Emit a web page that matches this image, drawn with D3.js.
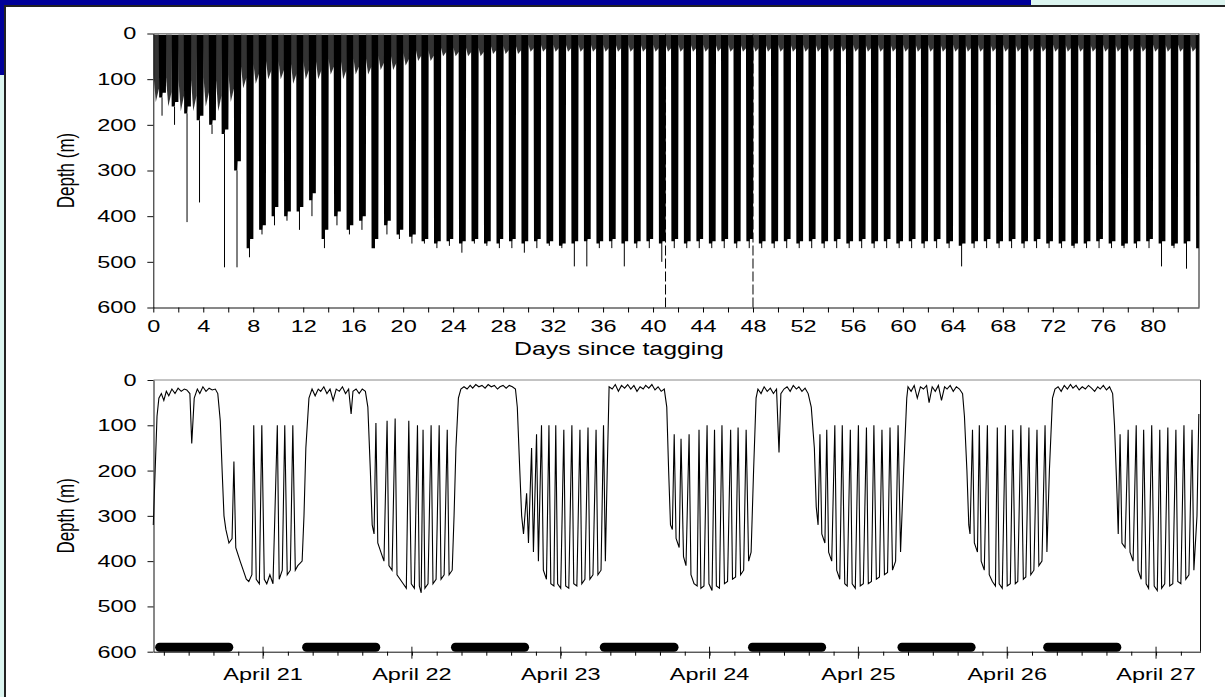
<!DOCTYPE html>
<html>
<head>
<meta charset="utf-8">
<script src="https://cdn.jsdelivr.net/npm/d3@7"></script>
<style>
  body { margin: 0; background: #dcf5f0; }
  svg { display: block; }
  text { font-family: "Liberation Sans", Arial, sans-serif; fill: #000; }
</style>
</head>
<body>
<svg id="chart" width="1225" height="697"></svg>
<script>
// ---------- data ----------
// top panel: one entry per day since tagging (depths in m)
const topNight = [
  150,160,170,170,160,170,150,120,110,100,
  100,110,100,100, 90,100, 90, 90, 80, 80,
   70, 60, 60, 50, 50, 50, 50, 45, 45, 45,
   40, 40, 40, 40, 40, 40, 40, 40, 40, 40,
   40, 40, 40, 40, 40, 40, 40, 40, 40, 40,
   40, 40, 40, 40, 40, 40, 40, 40, 40, 40,
   40, 40, 40, 40, 40, 40, 40, 40, 40, 40,
   40, 40, 40, 40, 40, 40, 40, 40, 40, 40,
   40, 40, 40, 40];
const topDeep = [
  140,160,175,190,200,220,300,470,430,400,
  400,390,365,450,400,430,410,470,420,440,
  445,455,460,455,460,455,460,460,455,460,
  455,460,465,460,455,460,455,460,460,455,
  460,455,460,455,460,455,460,455,460,460,
  455,460,455,460,455,460,455,460,455,460,
  455,460,455,460,465,460,455,460,455,460,
  455,460,460,465,460,455,460,465,460,455,
  460,465,460,470];
const topDeepLate = [
  130,150,160,180,190,210,280,450,420,380,
  390,380,350,430,390,420,400,450,410,430,
  440,450,455,450,455,450,455,450,450,455,
  450,455,460,455,450,455,450,455,455,450,
  455,450,455,450,455,450,455,450,455,455,
  450,455,450,455,450,455,450,455,450,455,
  450,455,450,455,460,455,450,455,450,455,
  450,455,455,460,455,450,455,460,455,450,
  455,460,455,465];
const topSpike = [
  180,200,413,370,220,512,512,490,440,420,
  410,430,400,470,420,440,430,470,440,450,
  460,460,470,465,480,460,465,470,470,480,
  470,465,470,510,510,470,470,510,470,470,
  500,470,470,470,470,470,470,470,470,470,
  470,470,470,470,470,470,470,470,470,470,
  470,470,470,470,510,470,470,470,470,470,
  470,470,470,470,470,470,470,470,470,470,
  510,470,515,470];
const topDays = d3.range(topDeep.length);
const topXTicks = d3.range(0, 84, 2);
const windowDays = [41, 48];

// bottom panel: hours after midnight of each date, depth (m)
const apr20 = [[6.3,320],[6.6,200],[6.9,80],[7.2,40],[7.6,30],[8.0,45],[8.4,25],[8.8,35],[9.3,20],[9.8,30],[10.3,18],[10.8,25],[11.3,20],[11.7,22],[12.2,30],[12.5,140],[12.9,40],[13.4,20],[13.8,30],[14.3,15],[14.8,25],[15.3,18],[15.8,22],[16.3,20],[16.7,30],[17.1,90],[17.4,200],[17.7,300],
  [18.0,330],[18.5,360],[19.0,350],[19.3,180],[19.6,370],[20.3,400],[20.8,420],[21.3,440],[21.7,445],[22.2,430],[22.5,100],[22.9,440],[23.4,450],[23.8,100],[24.2,440],[24.6,450],[25.1,430],[25.6,450],[26.3,100],[26.6,440],[27.1,420],[27.5,100],[27.9,430],[28.4,420],[28.8,100],[29.2,420],[29.6,410],[30.3,400],[30.6,300],[30.9,150]];
const apr21 = [[7.4,40],[7.9,20],[8.4,35],[8.9,20],[9.3,25],[9.8,15],[10.3,30],[10.8,20],[11.3,45],[11.8,20],[12.3,25],[12.8,15],[13.3,30],[13.8,20],[14.2,75],[14.5,25],[15.0,20],[15.5,30],[16.0,20],[16.5,25],[16.9,60],[17.3,200],[17.6,320],
  [17.9,340],[18.2,95],[18.5,360],[19.0,380],[19.5,400],[20.0,90],[20.3,410],[20.8,420],[21.3,85],[21.6,430],[22.1,440],[22.6,450],[23.1,460],[23.5,90],[23.9,450],[24.4,460],[24.9,100],[25.2,455],[25.5,470],[25.8,110],[26.1,460],[26.6,450],[27.1,100],[27.4,450],[27.9,440],[28.4,100],[28.7,440],[29.2,430],[29.7,110],[30.0,430],[30.5,420],[30.8,300],[31.1,150]];
const apr22 = [[7.5,40],[7.9,20],[8.4,15],[8.9,20],[9.4,12],[9.8,18],[10.3,10],[10.8,15],[11.3,12],[11.8,18],[12.3,10],[12.8,15],[13.3,12],[13.8,20],[14.2,15],[14.7,12],[15.2,18],[15.7,12],[16.2,15],[16.7,20],[17.0,60],[17.4,200],[17.7,300],
  [18.0,340],[18.5,250],[18.8,360],[19.3,150],[19.6,380],[20.1,120],[20.4,400],[20.9,100],[21.2,420],[21.7,440],[22.1,100],[22.4,450],[22.9,455],[23.2,100],[23.5,450],[24.0,460],[24.5,110],[24.8,455],[25.3,460],[25.8,100],[26.1,450],[26.6,455],[27.1,110],[27.4,450],[27.9,440],[28.4,105],[28.7,440],[29.2,430],[29.7,110],[30.0,430],[30.5,420],[30.9,100],[31.2,400],[31.5,200]];
const apr23 = [[7.8,15],[8.3,20],[8.8,10],[9.3,25],[9.8,12],[10.3,18],[10.8,10],[11.3,20],[11.8,12],[12.3,25],[12.8,15],[13.3,20],[13.7,12],[14.2,18],[14.7,10],[15.2,22],[15.7,15],[16.2,25],[16.7,20],[17.1,60],[17.4,200],[17.7,320],
  [18.0,330],[18.3,120],[18.6,350],[19.1,370],[19.4,130],[19.8,390],[20.2,410],[20.7,120],[21.0,430],[21.5,450],[22.0,455],[22.3,110],[22.6,460],[23.1,455],[23.6,100],[23.9,450],[24.4,465],[24.8,110],[25.1,455],[25.6,460],[26.0,100],[26.4,450],[26.9,445],[27.4,110],[27.7,440],[28.2,435],[28.6,105],[29.0,430],[29.5,420],[29.9,110],[30.3,400],[30.7,380],[31.1,200]];
const apr24 = [[7.5,40],[7.8,20],[8.3,30],[8.8,15],[9.3,25],[9.8,18],[10.3,30],[10.8,20],[11.2,160],[11.5,30],[12.0,20],[12.5,15],[13.0,25],[13.5,12],[14.0,20],[14.4,15],[14.9,25],[15.4,18],[15.9,30],[16.4,60],[16.9,150],[17.2,280],
  [17.5,320],[17.8,120],[18.1,340],[18.6,360],[18.9,110],[19.2,380],[19.7,400],[20.2,100],[20.5,420],[21.0,440],[21.4,100],[21.8,450],[22.2,455],[22.7,110],[23.0,450],[23.5,460],[24.0,100],[24.3,455],[24.8,450],[25.3,105],[25.6,450],[26.1,445],[26.5,100],[26.9,440],[27.4,435],[27.8,110],[28.2,430],[28.7,425],[29.1,105],[29.5,420],[30.0,400],[30.4,100],[30.8,380],[31.3,200]];
const apr25 = [[7.8,40],[8.0,15],[8.5,25],[9.0,12],[9.5,40],[10.0,15],[10.5,20],[11.0,12],[11.4,50],[11.9,15],[12.4,25],[12.9,12],[13.4,45],[13.9,15],[14.3,20],[14.8,12],[15.3,25],[15.8,15],[16.3,20],[16.8,30],[17.1,80],[17.5,200],[17.8,320],
  [18.0,340],[18.4,110],[18.7,360],[19.2,380],[19.5,100],[19.8,400],[20.3,420],[20.8,100],[21.1,430],[21.6,445],[22.1,455],[22.4,105],[22.7,450],[23.2,460],[23.7,100],[24.0,455],[24.5,450],[24.9,110],[25.3,450],[25.7,445],[26.2,100],[26.6,440],[27.0,435],[27.5,105],[27.8,430],[28.3,420],[28.8,110],[29.1,410],[29.6,400],[30.1,100],[30.4,380],[30.8,200]];
const apr26 = [[7.3,40],[7.7,20],[8.2,15],[8.7,25],[9.2,12],[9.7,20],[10.2,10],[10.6,18],[11.1,12],[11.6,22],[12.1,15],[12.6,20],[13.1,12],[13.6,18],[14.1,25],[14.6,15],[15.0,20],[15.5,12],[16.0,22],[16.5,15],[17.0,30],[17.3,100],[17.7,250],
  [17.9,340],[18.2,120],[18.5,360],[19.0,370],[19.5,110],[19.8,380],[20.3,400],[20.8,100],[21.1,420],[21.6,440],[22.0,110],[22.4,450],[22.8,460],[23.3,100],[23.7,455],[24.2,465],[24.6,110],[24.9,460],[25.4,450],[25.9,105],[26.2,455],[26.7,450],[27.2,110],[27.5,445],[28.0,450],[28.5,100],[28.8,440],[29.3,430],[29.8,110],[30.1,420],[30.6,300],[30.9,75]];
const bottomDays = [apr20, apr21, apr22, apr23, apr24, apr25, apr26];
// night periods (hour of each date, start/end)
const nightStart = [6.6, 6.3, 6.3, 6.3, 6.2, 6.3, 5.8];
const nightEnd   = [19.2, 18.9, 18.9, 19.0, 18.8, 18.9, 18.4];
const dayLabels = ["April 21", "April 22", "April 23", "April 24", "Aprl 25", "April 26", "April 27"];
const depthTicks = [0, 100, 200, 300, 400, 500, 600];

// ---------- layout ----------
const svg = d3.select("#chart");
const STRETCH = 1.38;

svg.append("rect").attr("width", 1225).attr("height", 697).attr("fill", "#dcf5f0");
svg.append("rect").attr("width", 1031).attr("height", 6).attr("fill", "#000099");
svg.append("rect").attr("width", 4).attr("height", 75).attr("fill", "#000099");
svg.append("rect").attr("x", 5).attr("y", 6).attr("width", 1230).attr("height", 700)
    .attr("fill", "#ffffff").attr("stroke", "#222").attr("stroke-width", 2);

function stretch(sel) {
    sel.each(function() {
        const t = d3.select(this);
        const x = +t.attr("x") || 0;
        t.attr("transform", `translate(${x},0) scale(${STRETCH},1) translate(${-x},0)`);
    });
}

function depthAxis(g, y) {
    g.call(d3.axisLeft(y).tickValues(depthTicks).tickSize(6).tickPadding(11).tickSizeOuter(0));
    g.select(".domain").attr("stroke", "#111");
    g.selectAll(".tick line").attr("stroke", "#111");
    g.selectAll("text").attr("font-size", 17).attr("font-family", null);
    stretch(g.selectAll("text"));
}

// ---------- top panel ----------
const xTop = d3.scaleLinear().domain([0, 83.7]).range([153.3, 1199]);
const yTop = d3.scaleLinear().domain([0, 600]).range([33.5, 307.5]);

svg.append("clipPath").attr("id", "clipTop").append("rect")
    .attr("x", xTop.range()[0]).attr("y", yTop(0))
    .attr("width", xTop.range()[1] - xTop.range()[0]).attr("height", yTop(600) - yTop(0));

const topG = svg.append("g");
const plotTop = topG.append("g").attr("clip-path", "url(#clipTop)");

// dashed lines marking the week shown below
plotTop.selectAll("line.win").data(windowDays).join("line").attr("class", "win")
    .attr("x1", d => xTop(d)).attr("x2", d => xTop(d))
    .attr("y1", yTop(600)).attr("y2", yTop(0))
    .attr("stroke", "#000").attr("stroke-dasharray", "10,3");

// night (shallow) fuzz
const nightArea = d3.area().x(d => xTop(d[0])).y0(yTop(2)).y1(d => yTop(d[1]));
plotTop.selectAll("path.night").data(topDays).join("path").attr("class", "night")
    .attr("d", d => nightArea([[d + 0.02, topNight[d] * 0.6], [d + 0.2, topNight[d]], [d + 0.46, topNight[d] * 0.8]]))
    .attr("fill", "#000").attr("fill-opacity", 0.8);

// daytime deep dive columns
const dayArea = d3.area().x(d => xTop(d[0])).y0(yTop(3)).y1(d => yTop(d[1]));
plotTop.selectAll("path.day").data(topDays).join("path").attr("class", "day")
    .attr("d", d => dayArea([[d + 0.44, 30], [d + 0.47, topDeep[d]], [d + 0.72, topDeep[d]],
                             [d + 0.75, topDeepLate[d]], [d + 1.01, topDeepLate[d]], [d + 1.04, 30]]))
    .attr("fill", "#000");

// deepest excursion each day
plotTop.selectAll("line.spike").data(topDays).join("line").attr("class", "spike")
    .attr("x1", d => xTop(d + 0.7)).attr("x2", d => xTop(d + 0.7))
    .attr("y1", d => yTop(Math.min(topDeep[d], topNight[d] + 250))).attr("y2", d => yTop(topSpike[d]))
    .attr("stroke", "#000").attr("stroke-width", 1);

// frame
topG.append("line").attr("x1", xTop.range()[0]).attr("x2", xTop.range()[1])
    .attr("y1", yTop(0)).attr("y2", yTop(0)).attr("stroke", "#888");
topG.append("line").attr("x1", xTop.range()[1]).attr("x2", xTop.range()[1])
    .attr("y1", yTop(0)).attr("y2", yTop(600)).attr("stroke", "#111");

topG.append("g").attr("transform", `translate(${xTop.range()[0]},0)`).call(g => depthAxis(g, yTop));

const xAxisTop = topG.append("g").attr("transform", `translate(0,${yTop(600)})`)
    .call(d3.axisBottom(xTop).tickValues(topXTicks).tickSize(5).tickPadding(7).tickSizeOuter(0)
        .tickFormat(d => d % 4 === 0 ? d : ""));
xAxisTop.select(".domain").attr("stroke", "#111");
xAxisTop.selectAll("text").attr("font-size", 17).attr("font-family", null);
stretch(xAxisTop.selectAll("text"));

topG.append("text").attr("x", 619).attr("y", 355).attr("text-anchor", "middle")
    .attr("font-size", 18).attr("transform", `translate(619,0) scale(${STRETCH},1) translate(-619,0)`)
    .text("Days since tagging");

// ---------- bottom panel ----------
const t0 = Date.UTC(2000, 3, 20, 6, 20), t1 = Date.UTC(2000, 3, 27, 7, 10);
const xBot = d3.scaleUtc().domain([t0, t1]).range([153.5, 1200.5]);
const yBot = d3.scaleLinear().domain([0, 600]).range([380, 651.7]);
const dateMs = (k, h) => Date.UTC(2000, 3, 20 + k) + h * 3600e3;

const trace = bottomDays.flatMap((arr, k) => arr.map(p => [dateMs(k, p[0]), p[1]]));

const botG = svg.append("g");

botG.selectAll("rect.night").data(nightStart).join("rect").attr("class", "night")
    .attr("x", (d, i) => xBot(dateMs(i, d)))
    .attr("width", (d, i) => xBot(dateMs(i, nightEnd[i])) - xBot(dateMs(i, d)))
    .attr("y", yBot(600) - 9).attr("height", 9).attr("rx", 4.5)
    .attr("fill", "#000");

botG.append("path").datum(trace)
    .attr("d", d3.line().x(d => xBot(d[0])).y(d => yBot(d[1])))
    .attr("fill", "none").attr("stroke", "#000").attr("stroke-width", 1.1);

botG.append("line").attr("x1", xBot.range()[0]).attr("x2", xBot.range()[1])
    .attr("y1", yBot(0)).attr("y2", yBot(0)).attr("stroke", "#888");
botG.append("line").attr("x1", xBot.range()[1]).attr("x2", xBot.range()[1])
    .attr("y1", yBot(0)).attr("y2", yBot(600)).attr("stroke", "#111");

botG.append("g").attr("transform", `translate(${xBot.range()[0]},0)`).call(g => depthAxis(g, yBot));

const xAxisBot = botG.append("g").attr("transform", `translate(0,${yBot(600)})`)
    .call(d3.axisBottom(xBot).ticks(d3.utcHour.every(4)).tickSize(4).tickFormat("").tickSizeOuter(0));
xAxisBot.select(".domain").attr("stroke", "#111");

const midnights = dayLabels.map((d, i) => dateMs(i + 1, 0));
botG.selectAll("line.major").data(midnights).join("line").attr("class", "major")
    .attr("x1", d => xBot(d)).attr("x2", d => xBot(d))
    .attr("y1", yBot(600) - 5).attr("y2", yBot(600) + 7).attr("stroke", "#111");
botG.selectAll("text.day").data(dayLabels).join("text").attr("class", "day")
    .attr("x", (d, i) => xBot(midnights[i])).attr("y", yBot(600) + 28)
    .attr("text-anchor", "middle").attr("font-size", 17)
    .text(d => d)
    .call(stretch);

// y titles
[yTop, yBot].forEach(y => {
    const cy = (y.range()[0] + y.range()[1]) / 2;
    svg.append("text")
        .attr("transform", `translate(74,${cy}) scale(${STRETCH},1) rotate(-90)`)
        .attr("text-anchor", "middle")
        .attr("font-family", "'Liberation Sans Narrow', 'Arial Narrow', sans-serif")
        .attr("font-size", 17)
        .text("Depth (m)");
});
</script>
</body>
</html>
